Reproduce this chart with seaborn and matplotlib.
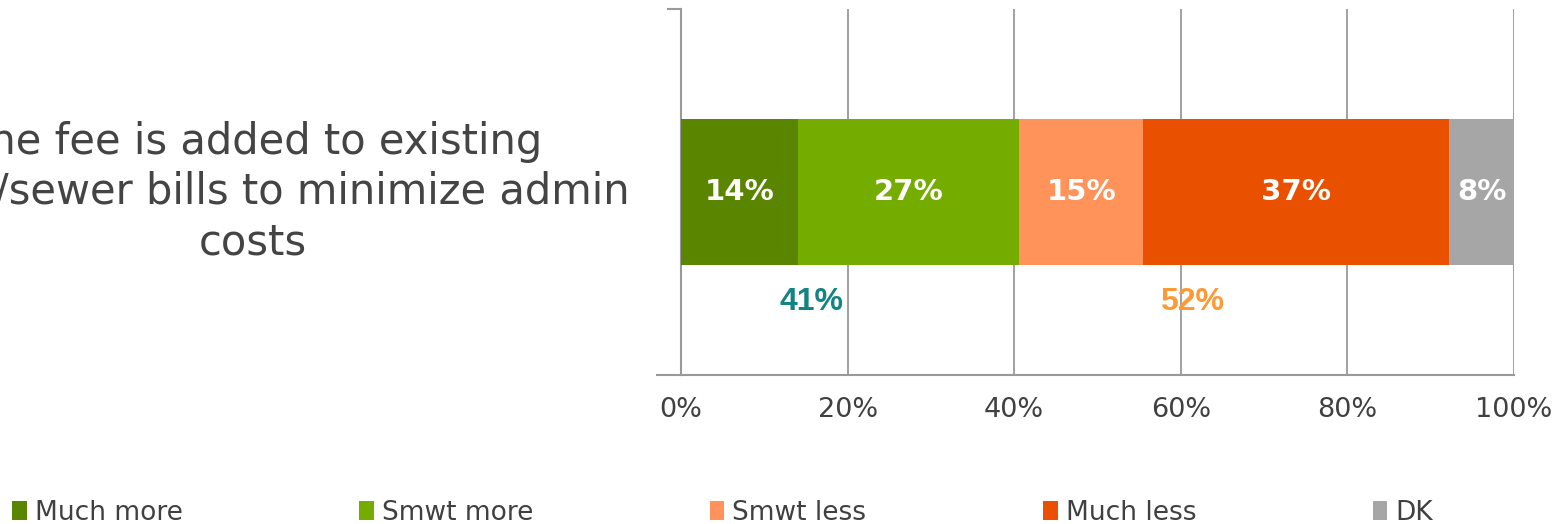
import matplotlib
matplotlib.use("Agg")
import matplotlib.pyplot as plt
import matplotlib.patches as mpatches
from matplotlib.ticker import FixedLocator
import seaborn as sns
import numpy as np
import pandas as pd

# ---- data ----
category = "The fee is added to existing\nwater/sewer bills to minimize admin\ncosts"
series = ["Much more", "Smwt more", "Smwt less", "Much less", "DK"]
values = [14.0, 26.6, 14.9, 36.7, 7.8]
colors = ["#5A8500", "#74AC00", "#FF935A", "#E95000", "#A6A6A6"]
xticks = [0, 20, 40, 60, 80, 100]
xtick_labels = ["0%", "20%", "40%", "60%", "80%", "100%"]
more_total = values[0] + values[1]
less_total = values[2] + values[3]

sns.set_theme(style="white")
plt.rcParams['font.family'] = ['DejaVu Sans']

fig = plt.figure(figsize=(15.61, 5.24), dpi=100)
ax = fig.add_axes([681/1561, 1-375/524, 833/1561, 366/524])

cum = np.cumsum(values)
df = pd.DataFrame({"cat": [category]*len(series), "series": series,
                   "value": values, "cum": cum})

# draw cumulative bars from the largest down so they stack visually
for i in range(len(series)-1, -1, -1):
    sns.barplot(data=df.iloc[[i]], x="cum", y="cat", orient="h",
                color=colors[i], width=0.4, ax=ax, saturation=1,
                edgecolor="none", linewidth=0, zorder=3)

# segment labels
for v, c in zip(values, cum):
    ax.text(c - v/2, 0, f"{round(v)}%", ha="center", va="center",
            color="white", fontsize=21, fontweight="bold", zorder=5)

ax.set_xlim(0, 100)
ax.set_ylim(0.5, -0.5)
ax.set_xlabel("")
ax.set_ylabel("")

# grid & spines
ax.set_xticks(xticks)
ax.set_xticklabels(xtick_labels, fontsize=19.5, color="#404040")
ax.xaxis.grid(True, color="#999999", linewidth=1.3, zorder=0)
ax.yaxis.grid(False)
ax.set_axisbelow(True)
for s in ["top", "right"]:
    ax.spines[s].set_visible(False)
for s in ["left", "bottom"]:
    ax.spines[s].set_color("#999999")
    ax.spines[s].set_linewidth(1.5)
ax.tick_params(axis="x", direction="out", length=7, width=1.3, color="#999999", pad=9)
ax.set_yticks([-0.5])
ax.set_yticklabels([""])
ax.yaxis.set_minor_locator(FixedLocator([0.5]))
ax.tick_params(axis="y", which="major", direction="out", length=10, width=1.5,
               color="#999999", left=True)
ax.tick_params(axis="y", which="minor", direction="out", length=18, width=1.5,
               color="#999999", left=True)

# category label (clipped at left edge of figure, as in the reference)
ax.text(-0.514, 0, category, transform=ax.get_yaxis_transform(),
        ha="center", va="center", multialignment="center",
        fontsize=30, color="#444444", clip_on=False, linespacing=1.25)

# summary annotations
ax.text(15.7, 0.3, f"{round(more_total)}%", ha="center", va="center",
        color="#138484", fontsize=23, fontweight="bold",
        family="Liberation Sans", zorder=5)
ax.text(61.3, 0.3, f"{round(less_total)}%", ha="center", va="center",
        color="#FF9933", fontsize=23, fontweight="bold",
        family="Liberation Sans", zorder=5)

handles = [mpatches.Patch(facecolor=c, edgecolor="none", label=s)
           for s, c in zip(series, colors)]
fig.legend(handles=handles, loc="lower left", bbox_to_anchor=(-0.004, -0.039),
           ncol=5, frameon=False, fontsize=19, handlelength=0.55,
           handleheight=0.75, handletextpad=0.3, columnspacing=6.7,
           labelcolor="#404040", borderpad=0.2)

fig.savefig("out.png", dpi=100)
